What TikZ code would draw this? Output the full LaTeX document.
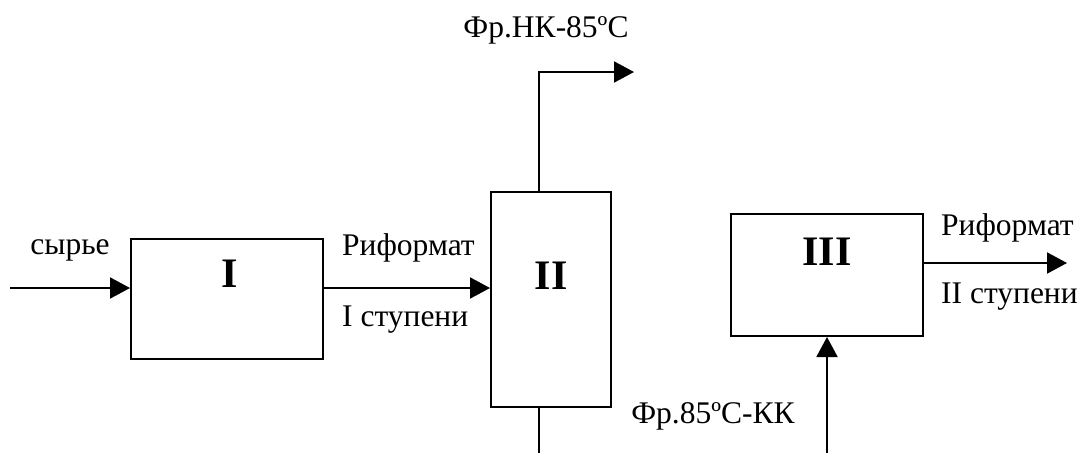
\documentclass[tikz,border=0pt]{standalone}
\usepackage{fontspec}
\setmainfont{Liberation Serif}
\usetikzlibrary{arrows.meta}
\begin{document}
\begin{tikzpicture}[x=1pt,y=-1pt,
  box/.style={draw,line width=2pt,inner sep=0pt},
  flow/.style={line width=2pt,-{Triangle[length=20pt,width=21pt]}},
  line/.style={line width=2pt},
  lbl/.style={inner sep=0pt,font=\fontsize{31.5}{36}\selectfont},
  num/.style={inner sep=0pt,font=\fontsize{42}{46}\selectfont\bfseries}]
\useasboundingbox (0,0) rectangle (1084,453);
\node[box,minimum width=192pt,minimum height=120pt] (I) at (227,299) {};
\node[box,minimum width=120pt,minimum height=215pt] (II) at (551,299.5) {};
\node[box,minimum width=192pt,minimum height=122pt] (III) at (827,275) {};
\node[num] (nI) at (230,274) {I};
\node[num] (nII) at (551,276) {II};
\node[num] (nIII) at (827,252) {III};
\coordinate (in) at (10,288);
\coordinate (nkx) at (539,0);
\coordinate (nk) at (634,72);
\coordinate (bot) at (539,453);
\coordinate (kk) at (827,453);
\coordinate (out) at (1067,263);
\draw[flow] (in) -- (in -| I.west);
\draw[flow] (I.east |- in) -- (II.west |- in);
\draw[flow] (II.north -| nkx) |- (nk);
\draw[line] (II.south -| nkx) -- (bot);
\draw[flow] (kk) -- (III.south);
\draw[flow] (III.east |- out) -- (out);
\node[lbl] (t1) at (70,250) {сырье};
\node[lbl,anchor=west] (t2) at (342,248) {Риформат};
\node[lbl,anchor=west] (t3) at (342,320) {I ступени};
\node[lbl] (t4) at (546,30) {Фр.НК-85ºС};
\node[lbl] (t5) at (713,416) {Фр.85ºС-КК};
\node[lbl,anchor=west] (t6) at (941,228) {Риформат};
\node[lbl,anchor=west] (t7) at (941,297) {II ступени};
\end{tikzpicture}
\end{document}
